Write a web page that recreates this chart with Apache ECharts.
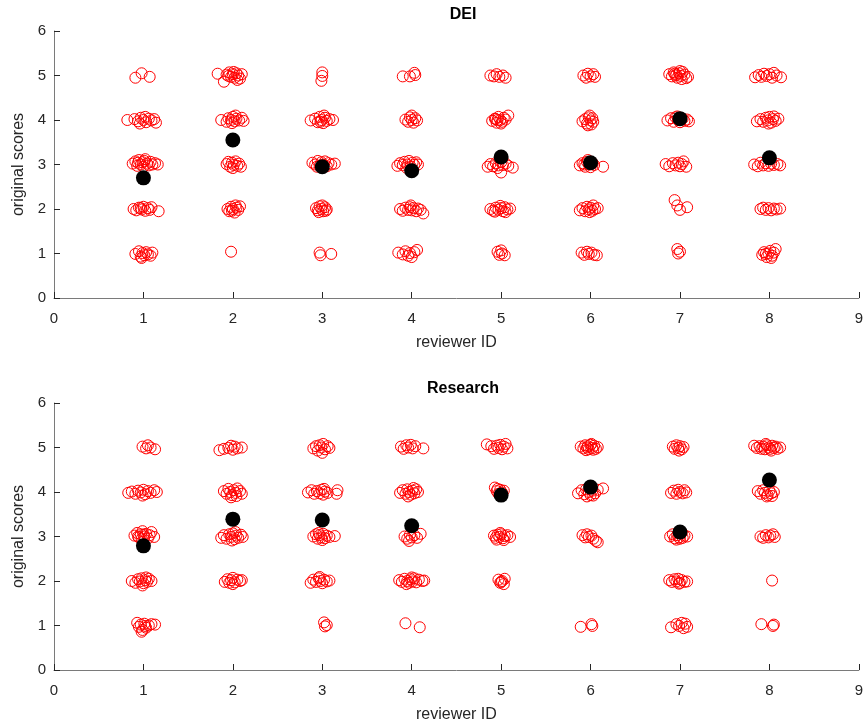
<!DOCTYPE html>
<html><head><meta charset="utf-8">
<script src="https://cdn.jsdelivr.net/npm/echarts@6/dist/echarts.min.js"></script>
<style>html,body{margin:0;padding:0;background:#fff}#c{width:866px;height:727px}</style>
</head><body><div id="c"></div>
<script>
// Tick labels
const xTicks = [0,1,2,3,4,5,6,7,8,9];
const yTicks = [0,1,2,3,4,5,6];
const titles = ['DEI', 'Research'];
// Reviewer means (black dots)
const reviewers = [1,2,3,4,5,6,7,8];
const deiMeans = [2.70, 3.55, 2.95, 2.86, 3.17, 3.04, 4.03, 3.15];
const resMeans = [2.79, 3.39, 3.37, 3.24, 3.93, 4.11, 3.10, 4.27];

// DEI individual (jittered) scores, per reviewer
const dei1 = [[0.91,4.95],[0.98,5.05],[1.07,4.97],
 [0.82,4.0],[0.9,4.02],[0.94,3.97],[0.97,4.05],[1.0,4.0],[1.03,3.95],[1.06,4.03],[1.09,3.99],[1.12,4.02],[1.14,3.94],[0.96,3.92],[1.02,4.07],
 [0.88,3.02],[0.91,3.07],[0.93,2.97],[0.95,3.1],[0.97,3.0],[0.99,3.05],[1.0,2.95],[1.02,3.12],[1.04,3.02],[1.06,2.98],[1.08,3.06],[1.1,3.0],[1.13,3.03],[1.16,3.0],[0.94,3.04],[1.01,3.08],
 [0.89,2.0],[0.92,1.97],[0.95,2.03],[0.98,1.99],[1.0,2.05],[1.02,1.96],[1.05,2.02],[1.07,1.98],[1.09,2.04],[0.97,2.02],[1.17,1.95],
 [0.91,0.99],[0.95,1.05],[0.97,0.93],[0.99,1.01],[1.01,0.96],[1.03,1.03],[1.05,0.98],[1.08,0.95],[1.1,1.02],[0.98,0.9]];
const dei2 = [[1.83,5.04],[1.9,4.86],[1.93,5.02],[1.96,5.07],[1.98,4.97],[2.0,5.03],[2.02,4.95],[2.04,5.05],[2.06,5.0],[2.08,4.93],[2.1,5.03],[1.95,4.99],[2.01,5.08],[2.05,4.9],
 [1.87,4.0],[1.93,3.96],[1.95,4.04],[1.98,4.0],[2.0,4.07],[2.02,3.97],[2.04,4.03],[2.07,3.99],[2.1,4.05],[2.12,3.98],[1.99,3.93],[2.03,4.1],
 [1.93,3.01],[1.95,3.06],[1.97,2.95],[1.99,3.04],[2.01,2.99],[2.03,3.07],[2.05,2.97],[2.07,3.02],[2.09,2.95],[2.0,2.92],
 [1.94,2.0],[1.96,1.95],[1.98,2.05],[2.0,2.0],[2.02,1.92],[2.04,2.03],[2.06,1.98],[2.08,2.06],[2.03,2.08],[1.99,1.96],
 [1.98,1.04]];
const dei3 = [[3.0,5.07],[3.0,4.99],[2.99,4.88],
 [2.87,3.99],[2.92,4.03],[2.95,3.95],[2.97,4.07],[2.99,4.0],[3.01,3.93],[3.03,4.05],[3.05,3.98],[3.08,4.02],[3.12,4.0],[2.98,3.96],[3.02,4.1],
 [2.89,3.04],[2.92,3.0],[2.95,3.08],[2.97,2.97],[2.99,3.05],[3.01,3.0],[3.03,3.07],[3.05,2.96],[3.07,3.03],[3.1,3.0],[3.14,3.02],[2.94,2.95],
 [2.93,2.02],[2.95,1.97],[2.97,2.06],[2.99,2.0],[3.01,1.95],[3.03,2.04],[3.05,1.99],[3.0,2.08],[2.96,1.93],[3.04,1.96],
 [2.97,1.02],[2.98,0.96],[3.1,0.99]];
const dei4 = [[3.9,4.98],[3.98,4.98],[4.03,5.06],[4.04,5.01],
 [3.93,4.01],[3.96,3.96],[3.98,4.06],[4.0,4.0],[4.02,3.94],[4.04,4.04],[4.06,3.99],[4.0,4.1],
 [3.84,2.97],[3.87,3.03],[3.9,2.99],[3.92,3.06],[3.95,3.0],[3.97,3.08],[3.99,2.95],[4.01,3.04],[4.03,2.99],[4.05,3.05],[4.07,3.0],[3.94,2.93],
 [3.87,2.0],[3.9,1.96],[3.93,2.03],[3.96,1.98],[3.98,2.04],[4.0,1.97],[4.02,2.02],[4.05,1.95],[4.07,2.01],[4.1,1.98],[4.13,1.9],[3.99,2.08],
 [3.85,1.02],[3.9,0.98],[3.93,1.05],[3.96,0.95],[3.98,1.01],[4.0,0.92],[4.03,1.03],[4.06,1.08]];
const dei5 = [[4.88,5.0],[4.92,4.98],[4.95,5.03],[4.98,4.97],[5.02,5.0],[5.05,4.95],
 [4.9,3.98],[4.93,4.03],[4.95,3.94],[4.97,4.07],[4.99,4.0],[5.01,3.96],[5.03,4.05],[5.05,4.01],[5.08,4.1],[4.96,4.0],[5.0,3.92],[4.94,4.02],
 [4.85,2.95],[4.88,3.01],[4.91,2.96],[4.94,3.03],[4.97,2.98],[5.0,3.05],[5.02,2.99],[5.0,2.82],[5.05,3.02],[5.08,2.97],[5.13,2.93],[4.96,2.92],
 [4.88,2.0],[4.91,1.96],[4.94,2.03],[4.97,1.98],[5.0,2.02],[5.02,1.95],[5.04,2.04],[5.07,1.99],[5.1,2.01],[4.99,2.07],[5.05,1.93],[4.93,1.94],
 [4.96,1.04],[4.98,0.97],[5.01,1.0],[5.04,0.96],[5.0,1.07]];
const dei6 = [[5.92,5.0],[5.95,4.95],[5.97,5.04],[6.0,4.98],[6.03,5.03],[6.05,4.97],
 [5.91,3.97],[5.94,4.02],[5.96,3.92],[5.98,4.06],[6.0,3.99],[6.02,4.04],[5.97,3.88],[6.01,3.9],[5.99,4.1],[6.03,3.96],
 [5.88,2.98],[5.91,3.03],[5.94,2.95],[5.96,3.06],[5.98,3.0],[6.0,2.94],[6.02,3.04],[6.04,2.99],[5.97,3.1],[6.14,2.95],[6.01,3.02],[5.93,3.0],
 [5.88,1.97],[5.91,2.02],[5.94,1.95],[5.96,2.05],[5.98,1.99],[6.0,2.03],[6.02,1.96],[6.05,2.0],[6.08,2.02],[5.99,1.93],[6.03,2.08],
 [5.9,1.02],[5.93,0.97],[5.96,1.04],[5.98,0.99],[6.01,1.02],[6.04,0.97],[6.07,0.96]];
const dei7 = [[6.88,5.03],[6.91,4.98],[6.93,5.07],[6.95,5.0],[6.97,4.95],[6.99,5.05],[7.01,4.99],[7.03,5.08],[7.05,5.02],[7.07,4.94],[7.09,4.97],[7.0,5.1],[6.96,5.02],[7.02,4.92],[6.94,5.04],
 [6.86,3.99],[6.9,4.04],[6.93,3.96],[6.95,4.06],[6.98,4.0],[7.0,3.95],[7.03,4.03],[7.05,3.98],[7.08,4.01],[7.1,3.97],[6.97,4.08],[7.01,4.05],
 [6.84,3.01],[6.88,2.96],[6.92,3.03],[6.95,2.98],[6.98,3.04],[7.0,2.96],[7.02,3.01],[7.04,3.07],[7.07,2.95],
 [6.94,2.2],[6.97,2.08],[7.0,1.98],[7.08,2.04],
 [6.97,1.1],[6.98,1.0],[7.0,1.04]];
const dei8 = [[7.84,4.96],[7.88,5.01],[7.91,4.97],[7.94,5.04],[7.97,4.99],[8.0,5.03],[8.03,4.95],[8.05,5.06],[8.08,5.0],[8.13,4.96],
 [7.86,3.97],[7.9,4.02],[7.93,3.96],[7.96,4.05],[7.98,3.99],[8.0,4.07],[8.02,3.94],[8.04,4.02],[8.07,3.98],[8.1,4.03],[7.99,3.92],[8.05,4.08],
 [7.83,3.0],[7.87,2.96],[7.9,3.04],[7.93,2.98],[7.96,3.03],[7.99,2.97],[8.02,3.02],[8.05,2.99],[8.09,3.01],[8.12,2.98],
 [7.9,2.0],[7.93,2.03],[7.96,1.98],[7.99,2.02],[8.02,1.97],[8.05,2.01],[8.08,1.99],[8.12,2.01],
 [7.92,0.97],[7.94,1.03],[7.97,0.92],[7.99,1.0],[8.01,1.06],[8.03,0.95],[8.05,1.02],[8.07,1.1],[7.96,0.99],[8.02,0.9]];

// Research individual (jittered) scores, per reviewer
const res1 = [[0.99,5.02],[1.03,4.98],[1.05,5.05],[1.08,5.0],[1.13,4.96],
 [0.83,3.98],[0.87,4.01],[0.91,3.96],[0.94,4.03],[0.97,3.99],[1.0,4.05],[1.02,3.95],[1.05,4.02],[1.08,3.98],[1.12,4.04],[1.15,4.0],[0.99,3.92],
 [0.9,3.02],[0.93,3.08],[0.95,2.98],[0.97,3.05],[0.99,3.12],[1.01,3.0],[1.03,3.06],[1.05,2.96],[1.07,3.03],[1.09,3.1],[1.12,2.99],[0.94,3.0],[1.0,3.04],[0.98,2.95],
 [0.87,2.0],[0.91,1.96],[0.94,2.04],[0.96,1.99],[0.98,2.06],[1.0,1.95],[1.02,2.02],[1.04,1.98],[1.06,2.05],[1.09,2.0],[0.99,1.9],[1.03,2.08],
 [0.93,1.06],[0.95,0.97],[0.97,1.02],[0.99,0.9],[1.01,1.04],[1.03,0.95],[1.06,1.0],[1.09,1.03],[1.13,1.02],[0.98,0.86],[1.02,0.99]];
const res2 = [[1.85,4.94],[1.9,4.97],[1.95,4.99],[1.98,5.04],[2.0,4.95],[2.02,5.02],[2.05,4.98],[2.1,5.0],
 [1.9,4.02],[1.93,3.96],[1.95,4.07],[1.97,4.0],[1.99,3.93],[2.01,4.04],[2.03,3.98],[2.05,4.08],[2.08,4.02],[2.1,3.96],[1.98,3.88],[2.04,3.91],
 [1.87,2.97],[1.9,3.03],[1.93,2.95],[1.96,3.05],[1.98,2.99],[2.0,3.07],[2.02,2.94],[2.04,3.02],[2.06,2.97],[2.09,3.04],[2.11,2.99],[1.99,2.91],[2.03,3.1],
 [1.91,1.98],[1.94,2.04],[1.96,1.96],[1.98,2.02],[2.0,2.07],[2.02,1.97],[2.05,2.03],[2.08,2.0],[2.1,2.02],[2.0,1.93]];
const res3 = [[2.9,4.98],[2.93,5.03],[2.95,4.93],[2.97,5.05],[2.99,5.0],[3.01,5.08],[3.03,4.96],[3.06,5.03],[3.08,4.99],[3.0,4.88],
 [2.84,3.99],[2.88,4.04],[2.91,3.96],[2.94,4.02],[2.97,3.97],[2.99,4.05],[3.01,3.94],[3.03,4.01],[3.06,3.98],[3.02,4.07],[3.17,4.04],[3.16,3.96],
 [2.9,3.0],[2.93,3.05],[2.95,2.95],[2.97,3.03],[2.99,2.98],[3.01,3.06],[3.03,2.96],[3.05,3.02],[3.08,2.99],[3.0,2.92],[3.14,3.01],[2.96,3.08],
 [2.87,1.96],[2.9,2.03],[2.93,1.98],[2.96,2.06],[2.98,2.0],[3.0,1.95],[3.02,2.03],[3.05,1.99],[3.08,2.01],[2.97,2.09],
 [3.02,1.07],[3.03,0.98],[3.05,1.01]];
const res4 = [[3.88,5.02],[3.91,4.97],[3.94,5.05],[3.96,5.0],[3.99,5.06],[4.01,4.98],[4.04,5.03],[4.13,4.98],
 [3.87,3.98],[3.9,4.04],[3.93,3.96],[3.95,4.06],[3.97,4.0],[3.99,3.94],[4.01,4.03],[4.03,3.97],[4.05,4.06],[4.07,4.0],[3.96,3.9],[4.02,4.09],
 [3.92,3.0],[3.95,2.95],[3.98,3.04],[4.0,2.98],[4.03,3.03],[4.06,2.97],[4.1,3.06],[3.97,2.9],
 [3.86,2.02],[3.89,1.98],[3.92,2.05],[3.95,2.0],[3.97,1.96],[3.99,2.04],[4.01,1.99],[4.03,2.06],[4.05,1.97],[4.08,2.03],[4.12,2.0],[3.94,1.93],[4.0,2.08],[4.14,2.01],
 [3.93,1.05],[4.09,0.96]];
const res5 = [[4.84,5.07],[4.89,5.03],[4.92,4.97],[4.95,5.04],[4.97,4.99],[4.99,5.06],[5.01,4.96],[5.03,5.02],[5.05,5.08],[5.07,4.98],
 [4.93,4.1],[4.95,4.02],[4.97,3.96],[4.99,4.05],[5.01,3.99],[5.03,4.03],[5.0,3.92],[4.96,4.07],
 [4.92,3.02],[4.94,2.97],[4.96,3.04],[4.98,2.99],[5.0,3.05],[5.02,2.96],[5.04,3.01],[5.07,3.03],[5.1,2.99],[4.95,2.93],[5.03,2.92],[4.99,3.08],
 [4.97,2.03],[4.99,1.96],[5.01,2.0],[5.03,1.93],[5.04,2.05],[5.0,1.98]];
const res6 = [[5.89,5.02],[5.92,4.98],[5.94,5.05],[5.96,5.0],[5.98,4.96],[6.0,5.06],[6.02,4.99],[6.04,5.04],[6.06,4.97],[6.08,5.01],[5.95,4.94],[6.01,5.08],[5.97,5.03],[6.03,4.95],
 [5.86,3.97],[5.9,4.04],[5.93,3.95],[5.95,4.06],[5.98,4.0],[6.0,3.93],[6.02,4.03],[6.05,3.97],[6.08,4.05],[6.14,4.08],[5.96,3.9],[6.03,3.92],
 [5.91,3.03],[5.94,2.98],[5.96,3.05],[5.98,2.99],[6.01,3.02],[6.03,2.95],[6.06,2.9],[6.08,2.87],
 [5.89,0.97],[6.01,1.03],[6.02,0.99]];
const res7 = [[6.92,5.02],[6.94,4.97],[6.96,5.05],[6.98,4.99],[7.0,5.03],[7.02,4.96],[7.04,5.01],[6.99,4.93],
 [6.9,3.98],[6.93,4.03],[6.96,3.96],[6.98,4.05],[7.0,4.0],[7.03,3.97],[7.05,4.04],[7.07,3.99],
 [6.89,3.0],[6.92,3.05],[6.94,2.96],[6.97,3.03],[6.99,2.98],[7.01,3.07],[7.03,2.97],[7.05,3.02],[7.08,3.0],[6.96,2.93],[7.0,2.95],[7.02,3.09],
 [6.88,2.02],[6.91,1.98],[6.94,2.04],[6.96,1.99],[6.98,2.05],[7.0,1.96],[7.02,2.02],[7.05,1.98],[7.08,1.99],[6.99,1.94],
 [6.9,0.96],[6.96,1.03],[6.99,0.99],[7.02,1.06],[7.04,0.94],[7.06,1.04],[7.08,0.97]];
const res8 = [[7.83,5.04],[7.86,4.99],[7.89,5.03],[7.91,4.97],[7.93,5.02],[7.95,4.96],[7.97,5.05],[7.99,5.0],[8.01,4.97],[8.03,5.04],[8.05,4.99],[8.07,5.02],[8.09,4.97],[8.12,5.0],[7.96,5.08],[8.02,4.93],
 [7.87,4.02],[7.9,3.96],[7.93,4.04],[7.95,3.98],[7.98,3.93],[8.0,4.03],[8.02,3.97],[8.05,4.0],[7.97,3.9],[8.03,3.91],
 [7.9,3.0],[7.93,2.97],[7.96,3.03],[7.99,2.98],[8.01,3.02],[8.04,3.05],[8.06,2.99],
 [8.03,2.01],
 [7.91,1.03],[8.04,0.99],[8.05,1.02]];

const deiPoints = [].concat(dei1, dei2, dei3, dei4, dei5, dei6, dei7, dei8);
const resPoints = [].concat(res1, res2, res3, res4, res5, res6, res7, res8);

const FONT = '"Liberation Sans", Arial, Helvetica, sans-serif';
const AX = '#262626';
const LINE = '#7a7a7a';

function xAxis(i) {
  return {
    gridIndex: i, type: 'value', min: 0, max: 9, interval: 1,
    name: 'reviewer ID', nameLocation: 'middle', nameGap: 37,
    nameTextStyle: { color: AX, fontSize: 16, fontFamily: FONT },
    axisLine: { show: true, onZero: false, lineStyle: { color: LINE, width: 1 } },
    axisTick: { show: true, inside: true, length: 6, lineStyle: { color: AX } },
    axisLabel: { color: AX, fontSize: 15, fontFamily: FONT, margin: 13 },
    splitLine: { show: false }
  };
}
function yAxis(i) {
  return {
    gridIndex: i, type: 'value', min: 0, max: 6, interval: 1,
    name: 'original scores', nameLocation: 'middle', nameGap: 24,
    nameTextStyle: { color: AX, fontSize: 16, fontFamily: FONT },
    axisLine: { show: true, onZero: false, lineStyle: { color: LINE, width: 1 } },
    axisTick: { show: true, inside: true, length: 6, lineStyle: { color: AX } },
    axisLabel: { color: AX, fontSize: 15, fontFamily: FONT, margin: 8 },
    splitLine: { show: false }
  };
}
function red(i, data) {
  return {
    type: 'scatter', xAxisIndex: i, yAxisIndex: i, data: data,
    symbol: 'circle', symbolSize: 11, silent: true, z: 2,
    itemStyle: { color: 'rgba(255,0,0,0)', borderColor: '#ff0000', borderWidth: 1, opacity: 1 }
  };
}
function black(i, means) {
  return {
    type: 'scatter', xAxisIndex: i, yAxisIndex: i,
    data: reviewers.map((r, k) => [r, means[k]]),
    symbol: 'circle', symbolSize: 15, silent: true, z: 3,
    itemStyle: { color: '#000000', opacity: 1 }
  };
}

const chart = echarts.init(document.getElementById('c'), null, { renderer: 'canvas' });
chart.setOption({
  animation: false,
  backgroundColor: '#ffffff',
  title: [
    { text: titles[0], left: 458, top: 2, textAlign: 'center', textStyle: { fontSize: 16, fontWeight: 'bold', color: '#000', fontFamily: FONT } },
    { text: titles[1], left: 458, top: 376, textAlign: 'center', textStyle: { fontSize: 16, fontWeight: 'bold', color: '#000', fontFamily: FONT } }
  ],
  grid: [
    { left: 54, top: 31, width: 808, height: 267 },
    { left: 54, top: 403, width: 808, height: 267 }
  ],
  xAxis: [xAxis(0), xAxis(1)],
  yAxis: [yAxis(0), yAxis(1)],
  series: [red(0, deiPoints), black(0, deiMeans), red(1, resPoints), black(1, resMeans)]
});
</script>
</body></html>
